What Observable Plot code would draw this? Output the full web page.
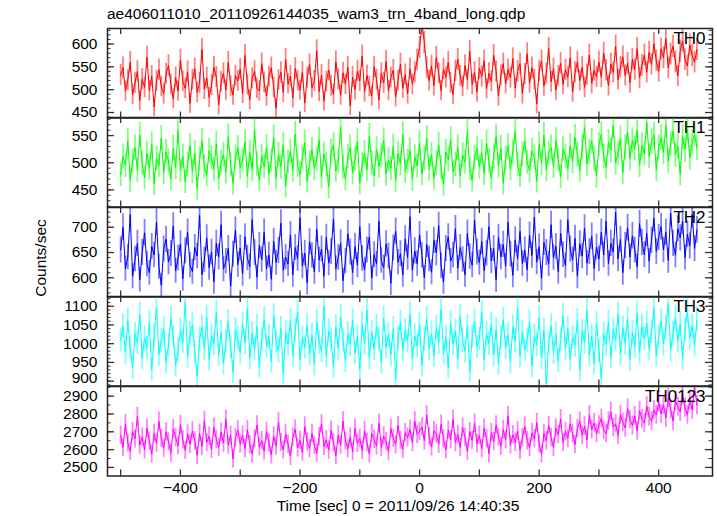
<!DOCTYPE html>
<html><head><meta charset="utf-8">
<script src="https://cdn.jsdelivr.net/npm/d3@7"></script>
<script src="https://cdn.jsdelivr.net/npm/@observablehq/plot@0.6"></script>
<style>
body{margin:0;background:#fff;}
#chart{position:relative;width:717px;height:516px;font-family:"Liberation Sans",Arial,sans-serif;color:#000;overflow:hidden;background:#fff}
.lbl{position:absolute;font-size:15.5px;white-space:nowrap;line-height:1}
</style></head><body><div id="chart"></div>
<script>
const title = "ae406011010_20110926144035_wam3_trn_4band_long.qdp";
const xLabel = "Time [sec] 0 = 2011/09/26 14:40:35";
const yLabel = "Counts/sec";
const tStart = -500, binSize = 4;
const xDomain = [-522, 490];
const xTicks = [-500, -400, -300, -200, -100, 0, 100, 200, 300, 400];
const xTickLabels = [-400, -200, 0, 200, 400];
const bands = ["TH0", "TH1", "TH2", "TH3", "TH0123"];
const colors = ["#ff0000", "#00ff00", "#0000ff", "#00ffff", "#ff00ff"];
const yDomains = [[438, 634], [418.5, 583.3], [562, 739], [887, 1126], [2452, 2954]];
const yMajor = [[450, 500, 550, 600], [450, 500, 550], [600, 650, 700], [900, 950, 1000, 1050, 1100], [2500, 2600, 2700, 2800, 2900]];
const yMinorStep = [10, 10, 10, 10, 50];

const th0 = [532,548,497,521,560,489,515,540,476,523,
505,571,498,530,462,519,544,507,491,535,
553,512,480,527,497,565,518,503,539,470,
522,546,494,515,588,501,526,483,510,549,
528,467,517,536,499,560,508,488,531,519,
545,492,575,511,478,525,540,503,497,557,
516,486,529,548,505,459,521,538,494,566,
513,530,482,547,520,499,538,471,526,555,
504,519,585,496,532,475,518,543,509,490,
561,523,488,537,512,549,465,528,500,541,
519,574,495,531,507,486,550,522,478,536,
515,562,498,527,543,484,520,556,503,533,
491,546,512,538,565,592,645,603,548,
520,552,509,571,536,498,545,527,560,515,
489,541,566,530,507,553,522,584,511,538,
495,547,529,563,502,536,518,575,540,486,
531,557,513,544,
526,568,503,540,557,491,534,579,515,548,
522,469,541,563,508,535,590,517,546,499,
530,558,512,544,527,570,495,538,561,520,
549,505,533,576,514,542,528,
561,527,580,543,509,556,538,595,522,549,
572,531,558,515,567,544,590,526,553,576,
538,
582,555,601,563,540,589,570,612,548,578,
595,561,530,584,607,566,552,598,575,560,
588];

const th1 = [478,512,495,540,467,503,528,486,551,499,
472,517,490,534,461,508,495,545,482,520,
503,470,527,491,559,486,512,465,497,531,
484,518,452,506,540,493,477,522,509,488,
535,470,500,515,483,548,496,462,510,527,
491,505,538,475,519,487,560,498,468,512,
493,529,480,504,546,471,515,492,533,457,
501,521,486,553,495,478,510,537,466,499,
524,489,506,542,474,516,497,455,520,532,
485,503,566,492,470,511,528,481,507,539,
463,496,518,487,549,500,476,525,493,513,
541,479,505,490,530,467,517,498,552,484,
502,523,469,511,494,536,480,507,545,488,
515,472,499,533,491,460,520,506,543,483,
497,528,475,514,501,557,489,468,510,526,
492,
519,480,536,503,471,512,548,494,527,462,
508,531,489,520,558,497,476,515,540,501,
485,522,510,466,534,499,551,487,517,528,
493,541,506,474,525,512,489,
531,502,547,515,486,528,565,498,520,540,
507,475,533,552,512,491,538,523,569,500,
517,544,482,528,556,
508,541,526,560,495,532,517,574,512,539,
551,487,528,546,519,570,503,535,558,514,
530,479,548,524,562,509,537,553,527];

const th2 = [655,700,618,641,725,603,637,668,596,650,
689,627,610,662,645,710,622,585,657,676,
631,648,702,614,639,667,598,653,690,625,
612,660,643,724,606,635,679,620,651,592,
668,641,705,617,633,658,584,647,694,626,
659,608,681,639,622,715,650,601,664,636,
690,618,645,597,672,630,654,708,615,641,
627,685,606,660,638,719,623,649,590,671,
644,612,696,635,657,603,680,629,652,716,
618,640,669,594,633,687,651,610,662,625,
701,638,616,655,681,599,646,627,712,634,
620,667,643,589,659,692,631,648,606,677,
640,721,615,653,628,685,644,600,666,637,
611,674,649,703,624,592,658,681,633,645,
697,619,660,636,606,688,642,625,714,651,
630,
672,614,649,701,633,658,596,680,641,666,
623,710,647,605,675,638,692,628,655,616,
684,644,720,631,661,599,670,650,627,705,
640,662,612,688,646,624,715,657,635,678,
603,667,643,698,629,652,682,618,661,637,
690,645,712,628,668,651,730,637,676,610,
664,699,641,683,655,622,707,670,646,688,
633,674,718,652,680,
701,655,690,634,728,668,645,697,679,712,
640,686,663,725,658,695];

const th3 = [1010,1048,975,1062,990,935,1025,1003,1078,962,
1015,988,1055,930,1022,1097,970,1008,1040,951,
996,1067,1018,942,983,1035,1005,1110,966,1028,
1050,978,912,1012,1044,987,1070,958,1020,1000,
1083,969,1031,947,1006,1059,992,925,1038,1014,
976,1052,1002,1093,961,1027,985,1046,938,1011,
1065,994,1019,952,1074,1007,980,1041,920,1029,
999,1061,968,1036,1085,957,1016,990,1049,973,
1022,945,1058,1004,981,1100,966,1033,1012,939,
1044,988,1071,1009,954,1026,997,1063,975,1018,
931,1053,1001,1089,962,1030,985,1047,1013,950,
1068,992,1024,971,1040,905,1015,1057,983,1035,
1006,1079,959,1021,994,1050,943,1011,1066,987,
1028,968,1043,1003,1092,974,1017,936,1055,999,
1034,961,1072,1008,980,1046,926,1019,1060,991,
1012,1083,957,1027,1000,1051,970,1038,946,1015,
1064,989,1023,952,1045,1006,1096,967,1031,984,
1009,1057,940,1020,997,1069,962,1036,892,1002,
1048,976,1025,954,1011,1075,986,1040,958,1017,
995,1062,930,1033,1004,1088,969,1021,947,1054,
981,908,1026,998,1058,964,1037,1010,1078,973,
1042,1001,1066,958,1029,992,1081,977,1046,1013,
1055,986,1032,1094,968,1019,1061,999,1043,1108,
983,1027,1070,1007,1052,961,1038,1086,1015,1047,
996,1064];

const th0123 = [2680,2612,2745,2638,2590,2702,2660,2785,2625,2671,
2598,2720,2648,2575,2690,2635,2758,2662,2607,2700,
2643,2580,2715,2668,2622,2740,2655,2596,2688,2630,
2705,2650,2568,2692,2618,2762,2640,2675,2601,2725,
2658,2612,2698,2636,2770,2625,2680,2548,2665,2710,
2632,
2680,2605,2712,2628,2575,2660,2738,2615,2650,2592,
2702,2637,2570,2675,2620,2755,2641,2598,2688,2630,
2562,2668,2715,2610,2652,2585,2730,2643,2606,2690,
2624,2580,2672,2745,2618,2655,2597,2708,2638,2566,
2682,2625,2760,2648,2604,2670,2588,2720,2635,2662,
2596,2705,2640,2575,2690,2658,2620,2748,2612,2676,
2645,2590,2718,2663,2627,2735,2652,2601,2695,2668,
2712,2640,2760,2685,2702,
2728,2650,2795,2672,2615,2705,2688,2630,2742,2660,
2598,2710,2655,2770,2640,2685,2612,2725,2668,2590,
2700,2652,2748,2633,2680,2605,2720,2662,2578,2695,
2645,2738,2670,2618,2712,2655,2790,2627,2683,2640,
2705,2596,2668,2730,2650,2612,2695,2660,2752,2632,
2575,2690,2650,2735,2668,2612,2720,2685,2772,2640,
2702,2662,2745,2690,2628,2718,2760,2680,2732,2655,
2795,2712,2750,2690,2738,
2775,2708,2690,2760,2812,2725,2745,2680,2795,2752,
2722,2830,2768,2735,2790,2705,2818,2772,2748,2845,
2785,2760,2822,2795,2865,
2800,2852,2778,2890,2825,2760,2872,2840,2812,2905,
2835,2795,2880,2822,2948,2850];

const series = [th0, th1, th2, th3, th0123];

const chart = document.getElementById("chart");
const W = 717, mL = 107, mR = 5, innerW = W - mL - mR;
const panelTop = [27.5, 117, 206.5, 296, 385.5];
const panelH = 89.5;
const fontStyle = "'Liberation Sans', Arial, Helvetica, sans-serif";
const fmtX = d => d < 0 ? "\u2212" + Math.abs(d) : String(d);
// small vertical nudge for the label that sits right above the next panel's top label
const labelNudge = {3: {900: -3}};

series.forEach((vals, i) => {
  const data = vals.map((v, k) => ({t: tStart + binSize * k, v}));
  const mb = i === 4 ? 34 : 0;
  const H = panelH;
  const [y0, y1] = yDomains[i];
  const step = yMinorStep[i];
  const minor = d3.range(Math.ceil(y0 / step) * step, y1, step);
  const c = colors[i];
  const nudge = labelNudge[i] || {};
  const plain = yMajor[i].filter(d => !(d in nudge));
  const nudged = yMajor[i].filter(d => d in nudge);
  const svg = Plot.plot({
    width: W, height: H + mb,
    marginLeft: mL, marginRight: mR, marginTop: 0, marginBottom: mb,
    x: {domain: xDomain, axis: null},
    y: {domain: yDomains[i], axis: null},
    style: {position: "absolute", left: "0px", top: panelTop[i] + "px", overflow: "visible",
            background: "transparent", fontSize: "15.5px", fontFamily: fontStyle, color: "#000"},
    marks: [
      Plot.ruleX(data, {x: "t", y1: d => d.v - Math.sqrt(d.v), y2: d => d.v + Math.sqrt(d.v),
                        stroke: c, strokeOpacity: 0.5, strokeWidth: 1.8, clip: true}),
      Plot.line(data, {x: "t", y: "v", stroke: c, strokeWidth: 1, clip: true}),
      Plot.tickY(minor, {y: d => d, insetRight: innerW - 3.5, stroke: "#333"}),
      Plot.tickY(minor, {y: d => d, insetLeft: innerW - 3.5, stroke: "#333"}),
      Plot.tickY(yMajor[i], {y: d => d, insetRight: innerW - 7, stroke: "#333", strokeWidth: 1.3}),
      Plot.tickY(yMajor[i], {y: d => d, insetLeft: innerW - 7, stroke: "#333", strokeWidth: 1.3}),
      Plot.tickX(xTicks, {x: d => d, insetTop: H - 6, stroke: "#333", strokeWidth: 1.3}),
      Plot.tickX(xTicks, {x: d => d, insetBottom: H - 6, stroke: "#333", strokeWidth: 1.3}),
      Plot.axisY({ticks: plain, tickSize: 0, tickPadding: 10, anchor: "left", label: null,
                  tickFormat: d => String(d)}),
      ...nudged.map(d => Plot.axisY({ticks: [d], tickSize: 0, tickPadding: 10, anchor: "left", label: null,
                  tickFormat: v => String(v), dy: nudge[d]})),
      i === 4 ? Plot.axisX({ticks: xTickLabels, tickSize: 0, tickPadding: 6, anchor: "bottom",
                            label: null, tickFormat: fmtX}) : null,
      Plot.frame({stroke: "#222", strokeWidth: 1.5}),
      Plot.text([bands[i]], {text: d => d, frameAnchor: "top-right", dx: -7, dy: 3.5,
                             lineAnchor: "top", textAnchor: "end", fontSize: 17, fill: "#000"})
    ]
  });
  chart.appendChild(svg);
});

function addLabel(text, css) {
  const d = document.createElement("div");
  d.className = "lbl";
  d.textContent = text;
  Object.assign(d.style, css);
  chart.appendChild(d);
}
addLabel(title, {left: "107px", top: "6px"});
addLabel(xLabel, {left: "398px", top: "498px", transform: "translateX(-50%)"});
addLabel(yLabel, {left: "41px", top: "258px", transform: "translate(-50%,-50%) rotate(-90deg)"});
</script>
</body></html>
